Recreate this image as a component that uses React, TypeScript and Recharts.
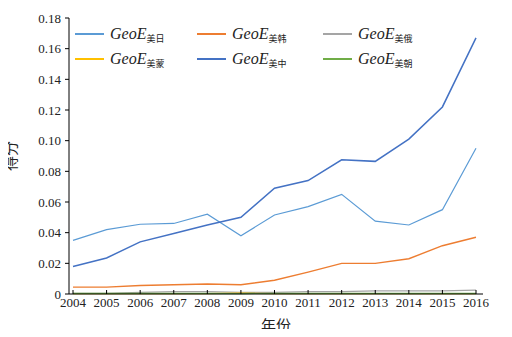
import { LineChart, Line, XAxis, YAxis, Legend } from "recharts"

const years = ["2004", "2005", "2006", "2007", "2008", "2009", "2010", "2011", "2012", "2013", "2014", "2015", "2016"]

const usJapan = [0.035, 0.042, 0.0455, 0.046, 0.052, 0.038, 0.0515, 0.057, 0.065, 0.0475, 0.045, 0.055, 0.095]
const usKorea = [0.0045, 0.0045, 0.0055, 0.006, 0.0065, 0.006, 0.009, 0.0143, 0.02, 0.02, 0.023, 0.0315, 0.037]
const usRussia = [0.0005, 0.0005, 0.001, 0.0015, 0.0015, 0.001, 0.001, 0.0015, 0.0015, 0.002, 0.002, 0.002, 0.0025]
const usMongolia = [0.0002, 0.0002, 0.0003, 0.0002, 0.0002, 0.0006, 0.0002, 0.0002, 0.0002, 0.0002, 0.0002, 0.0002, 0.0002]
const usChina = [0.018, 0.0235, 0.034, 0.0395, 0.045, 0.05, 0.069, 0.074, 0.0875, 0.0865, 0.101, 0.122, 0.167]
const usNorthKorea = [0.0004, 0.0004, 0.0004, 0.0004, 0.0004, 0.0003, 0.0004, 0.0004, 0.0004, 0.0004, 0.0004, 0.0004, 0.0004]

const yTicks = [0, 0.02, 0.04, 0.06, 0.08, 0.1, 0.12, 0.14, 0.16, 0.18]

// legend order follows the 3x2 grid in the figure
const series = [
  { key: "jp", label: "美日", color: "#5b9bd5", values: usJapan, width: 1.2 },
  { key: "kr", label: "美韩", color: "#ed7d31", values: usKorea, width: 1.4 },
  { key: "ru", label: "美俄", color: "#a5a5a5", values: usRussia, width: 1.2 },
  { key: "mn", label: "美蒙", color: "#ffc000", values: usMongolia, width: 1.2 },
  { key: "cn", label: "美中", color: "#4472c4", values: usChina, width: 1.5 },
  { key: "kp", label: "美朝", color: "#70ad47", values: usNorthKorea, width: 1.2 },
]

const data = years.map((year, i) => {
  const row: Record<string, string | number> = { year }
  series.forEach((s) => {
    row[s.key] = s.values[i]
  })
  return row
})

const font = '"Liberation Serif", "Times New Roman", serif'
const cjk = '"Noto Sans CJK SC", serif'

function XTick(props: any) {
  const { x, y, payload } = props
  return (
    <g>
      <line x1={x} y1={y} x2={x} y2={y - 4} stroke="#000" strokeWidth={1} />
      <text x={x} y={y + 13} textAnchor="middle" fontSize={13} fontFamily={font} fill="#222">
        {payload.value}
      </text>
    </g>
  )
}

function GeoLegend() {
  return (
    <div
      style={{
        display: "grid",
        gridTemplateColumns: "122px 126px 120px",
        rowGap: 6,
        fontFamily: font,
      }}
    >
      {series.map((s) => (
        <div key={s.key} style={{ display: "flex", alignItems: "center", height: 19 }}>
          <span style={{ display: "inline-block", width: 29, height: 2, background: s.color, marginRight: 6 }} />
          <span style={{ fontStyle: "italic", fontSize: 16, color: "#222" }}>GeoE</span>
          <span style={{ fontSize: 9, color: "#222", position: "relative", top: 5, fontFamily: cjk }}>
            {s.label}
          </span>
        </div>
      ))}
    </div>
  )
}

export default function App() {
  return (
    <div style={{ margin: -8, background: "#fff", width: 512, height: 337 }}>
      <LineChart width={512} height={337} data={data} margin={{ top: 18, right: 29, bottom: 13, left: 19 }}>
        <XAxis
          dataKey="year"
          height={30}
          padding={{ left: 4, right: 7 }}
          tickLine={false}
          tickSize={0}
          tickMargin={0}
          interval={0}
          tick={<XTick />}
          axisLine={{ stroke: "#000" }}
          label={{ value: "年份", position: "insideBottom", offset: -7, fontSize: 15, fill: "#222", fontFamily: cjk }}
        />
        <YAxis
          domain={[0, 0.18]}
          ticks={yTicks}
          width={50}
          tickSize={4}
          tickMargin={4}
          interval={0}
          tickFormatter={(v: number) => (v === 0 ? "0" : v.toFixed(2))}
          tick={{ fontSize: 13, fill: "#222", fontFamily: font }}
          tickLine={{ stroke: "#000" }}
          axisLine={{ stroke: "#000" }}
          label={{ value: "得分", angle: -90, position: "insideLeft", offset: -8, dy: 15, fontSize: 15, fill: "#222", fontFamily: cjk }}
        />
        <Legend
          layout="horizontal"
          verticalAlign="middle"
          align="center"
          wrapperStyle={{ position: "absolute", left: 75, top: 24, width: 380 }}
          content={() => <GeoLegend />}
        />
        {series.map((s) => (
          <Line
            key={s.key}
            type="linear"
            dataKey={s.key}
            stroke={s.color}
            strokeWidth={s.width}
            dot={false}
            isAnimationActive={false}
          />
        ))}
      </LineChart>
    </div>
  )
}
